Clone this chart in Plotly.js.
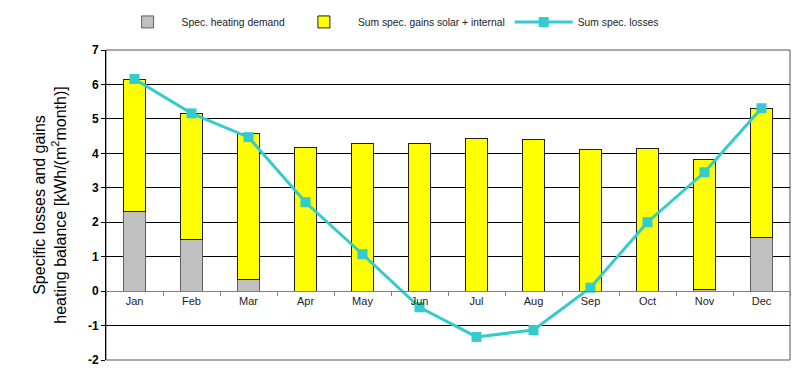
<!DOCTYPE html>
<html><head><meta charset="utf-8">
<script src="https://cdn.plot.ly/plotly-3.0.1.min.js"></script>
<style>html,body{margin:0;padding:0;background:#fff;}#chart{width:800px;height:378px;}</style>
</head><body><div id="chart"></div>
<script>
const months = ["Jan","Feb","Mar","Apr","May","Jun","Jul","Aug","Sep","Oct","Nov","Dec"];
const heatingDemand = [2.31,1.50,0.33,0,0,0,0,0,0,0,0.05,1.56];
const gainsTotalTop = [6.15,5.16,4.58,4.17,4.29,4.29,4.43,4.39,4.12,4.15,3.83,5.29];
const specLosses = [6.16,5.16,4.47,2.58,1.07,-0.47,-1.33,-1.13,0.10,2.00,3.45,5.31];
const gains = gainsTotalTop.map((t,i)=>+(t-heatingDemand[i]).toFixed(2));
const yTicks = [-2,-1,0,1,2,3,4,5,6,7];

const data = [
  {type:'bar', name:'Spec. heating demand', x:months, y:heatingDemand,
   marker:{color:'#C0C0C0', line:{color:'#606060', width:1}}},
  {type:'bar', name:'Sum spec. gains solar + internal', x:months, y:gains,
   marker:{color:'#FFFF00', line:{color:'#202020', width:1}}},
  {type:'scatter', mode:'lines+markers', name:'Sum spec. losses', x:months, y:specLosses,
   line:{color:'#33CCCC', width:3}, marker:{symbol:'square', size:10, color:'#33CCCC'}}
];

const layout = {
  width:800, height:378,
  margin:{l:106, r:10, t:50, b:18},
  paper_bgcolor:'#fff', plot_bgcolor:'#fff',
  barmode:'stack', bargap:0.6,
  font:{family:'Liberation Sans, Arial, sans-serif', size:11, color:'#000'},
  showlegend:true,
  legend:{orientation:'h', xref:'container', yref:'container', x:0.142, xanchor:'left',
          y:0.942, yanchor:'middle', traceorder:'normal',
          font:{size:10.3, color:'#222'}, itemwidth:58},
  xaxis:{type:'category', range:[-0.5,11.5], anchor:'free', position:2/9,
         showline:true, linecolor:'#808080', linewidth:1,
         ticks:'outside', tickson:'boundaries', ticklen:4, tickcolor:'#808080',
         showgrid:false, tickfont:{size:11, color:'#222'}, fixedrange:true},
  yaxis:{range:[-2,7], tickvals:yTicks, ticktext:yTicks.map(String),
         showgrid:true, gridcolor:'#000', gridwidth:1, zeroline:false,
         showline:true, linecolor:'#000', linewidth:1,
         ticks:'outside', ticklen:4, tickcolor:'#000',
         tickfont:{size:12, color:'#000', weight:'bold'},
         title:{text:'Specific losses and gains<br>heating balance [kWh/(m<sup>2</sup>month)]',
                font:{size:16, color:'#000'}, standoff:17}},
  shapes:[{type:'rect', xref:'paper', yref:'paper', x0:0, x1:1, y0:0, y1:1,
           line:{color:'#555', width:1}, layer:'below'}]
};
Plotly.newPlot('chart', data, layout, {displayModeBar:false, staticPlot:true});
</script></body></html>
